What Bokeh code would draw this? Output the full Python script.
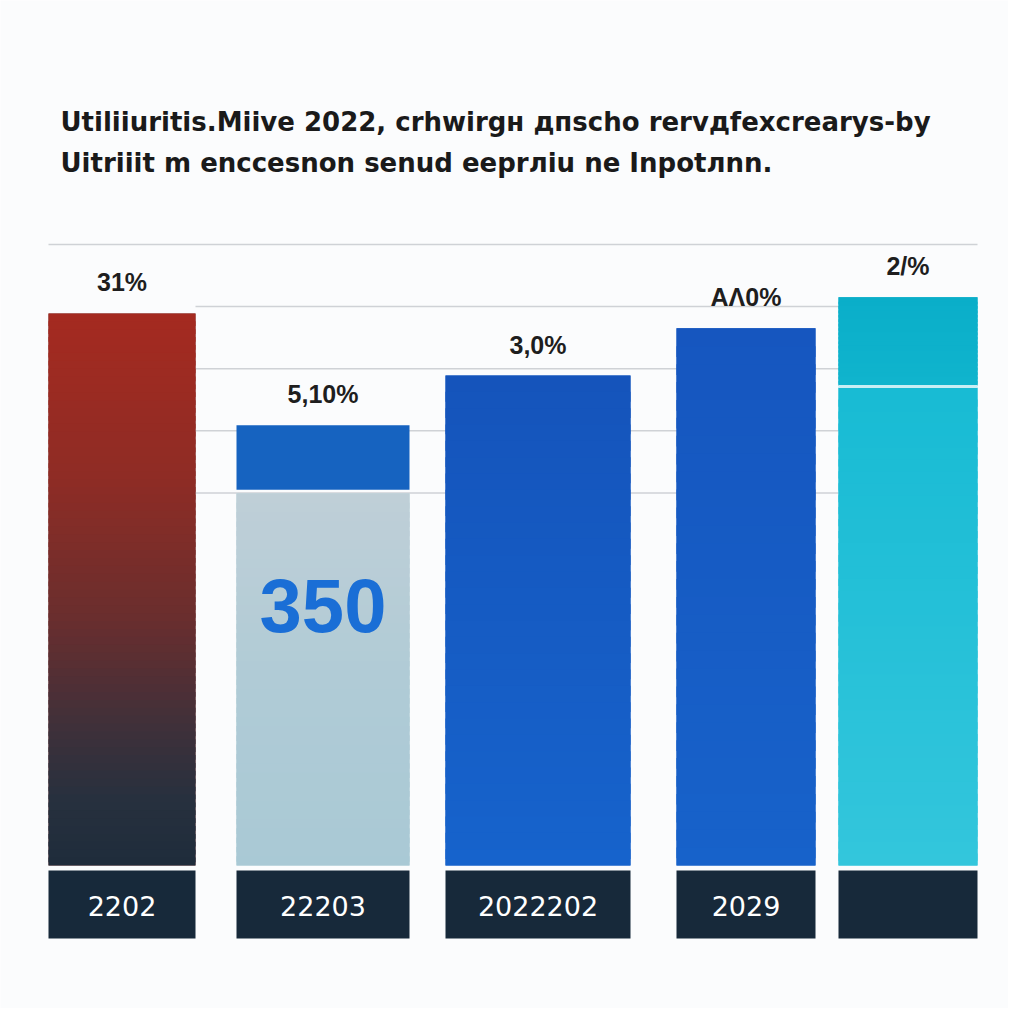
from bokeh.plotting import figure
from bokeh.models import Range1d
from bokeh.core.properties import value
from bokeh.embed import file_html
from bokeh.resources import INLINE

# ---- data ----
title_line1 = "Utiliiuritis.Miive 2022, crhwirgн дпscho rervдfexcrearys-by"
title_line2 = "Uitriiit m enccesnon senud eeprлiu ne Inpotлnn."
categories = ["2202", "22203", "2022202", "2029", ""]
values = [88.9, 70.9, 78.9, 86.5, 91.5]
value_labels = ["31%", "5,10%", "3,0%", "AΛ0%", "2/%"]
bar2_lower = 59.9
bar5_split = 77.3
inner_label = "350"
grid_values = [100, 90, 80, 70, 60]

# ---- layout (screen pixels for x) ----
bar_left = [48, 236, 445, 676, 838]
bar_right = [195, 409, 630, 815, 977]
centers = [(a + b) / 2 for a, b in zip(bar_left, bar_right)]

PX = 6.21  # pixels per value unit
y0_page = 865
def yv(page_y):
    return (y0_page - page_y) / PX

W = H = 1008
p = figure(width=W, height=H, output_backend="svg", toolbar_location=None,
           x_range=Range1d(0, W), y_range=Range1d(yv(H), yv(0)),
           min_border=0, min_border_left=0, min_border_right=0,
           min_border_top=0, min_border_bottom=0)
p.axis.visible = False
p.grid.visible = False
p.outline_line_color = None
p.background_fill_color = "#fbfcfd"
p.border_fill_color = "#fbfcfd"

def hex2rgb(h):
    h = h.lstrip("#")
    return tuple(int(h[i:i + 2], 16) for i in (0, 2, 4))

def interp(stops, t):
    for (t0, c0), (t1, c1) in zip(stops[:-1], stops[1:]):
        if t0 <= t <= t1:
            f = 0 if t1 == t0 else (t - t0) / (t1 - t0)
            a, b = hex2rgb(c0), hex2rgb(c1)
            return "#%02x%02x%02x" % tuple(int(round(a[k] + (b[k] - a[k]) * f)) for k in range(3))
    return stops[-1][1]

def gradient_bar(left, right, bottom, top, stops, n=70):
    # stops: t=0 at top, t=1 at bottom; a solid base first hides stripe seams
    p.quad(left=[left], right=[right], bottom=[bottom], top=[top],
           fill_color=interp(stops, 0.5), line_color=None)
    h = (top - bottom) / n
    l, r, b, t, c = [], [], [], [], []
    for i in range(n):
        tt = top - i * h
        l.append(left); r.append(right)
        t.append(tt)
        b.append(max(bottom, tt - h * 1.6))
        c.append(interp(stops, (i + 0.5) / n))
    p.quad(left=l, right=r, bottom=b, top=t, fill_color=c, line_color=None)

# gridlines
grid_color = "#cfd2d6"
p.segment(x0=[bar_left[0]], x1=[bar_right[-1]], y0=[grid_values[0]], y1=[grid_values[0]],
          line_color=grid_color, line_width=1.5)
inner = grid_values[1:]
p.segment(x0=[bar_right[0]] * len(inner), x1=[bar_left[-1]] * len(inner), y0=inner, y1=inner,
          line_color=grid_color, line_width=1.5)

# bar 1: red to navy gradient
gradient_bar(bar_left[0], bar_right[0], 0, values[0],
             [(0, "#a52a20"), (0.3, "#8e2c25"), (0.55, "#6a2e2e"), (0.75, "#3f303a"),
              (0.88, "#27303e"), (1, "#1f2c3b")])
# bar 2: light lower part + blue top part
gradient_bar(bar_left[1], bar_right[1], 0, bar2_lower,
             [(0, "#bfcfd7"), (0.5, "#b0cbd6"), (1, "#a9c9d5")], n=40)
p.quad(left=[bar_left[1]], right=[bar_right[1]], bottom=[bar2_lower + 0.6], top=[values[1]],
       fill_color="#1663c0", line_color=None)
# bar 3, bar 4
gradient_bar(bar_left[2], bar_right[2], 0, values[2],
             [(0, "#1554bb"), (1, "#1663cc")], n=30)
gradient_bar(bar_left[3], bar_right[3], 0, values[3],
             [(0, "#1656bf"), (1, "#1762ca")], n=30)
# bar 5: cyan with split line
gradient_bar(bar_left[4], bar_right[4], bar5_split, values[4],
             [(0, "#0aaec9"), (1, "#10b4cd")], n=20)
gradient_bar(bar_left[4], bar_right[4], 0, bar5_split - 0.35,
             [(0, "#18bbd4"), (1, "#33c6dc")], n=40)
p.segment(x0=[bar_left[4]], x1=[bar_right[4]], y0=[bar5_split - 0.15], y1=[bar5_split - 0.15],
          line_color="#c8eef4", line_width=3)

# footers
p.quad(left=bar_left, right=bar_right, bottom=[yv(938)] * 5, top=[yv(870)] * 5,
       fill_color="#17293a", line_color=None)
p.text(x=centers, y=[yv(905)] * 5, text=categories, text_align="center", text_baseline="middle",
       text_font=value("DejaVu Sans"), text_font_size="27px", text_color="#ffffff")

# value labels
p.text(x=centers, y=values, text=value_labels, text_align="center", text_baseline="middle",
       y_offset=-31, text_font=value("Liberation Sans"), text_font_style="bold",
       text_font_size="25px", text_color="#1e1e1e")

# inner label on bar 2
p.text(x=[centers[1]], y=[bar2_lower * 0.7], text=[inner_label], text_align="center",
       text_baseline="middle", text_font=value("Liberation Sans"), text_font_style="bold",
       text_font_size="76px", text_color="#1a6ed6")

# title
p.text(x=[60, 60], y=[yv(121), yv(162)], text=[title_line1, title_line2],
       text_align="left", text_baseline="alphabetic", text_font=value("DejaVu Sans"),
       text_font_style="bold", text_font_size="26px", text_color="#1a1a1a")

open("out.html", "w").write(file_html(p, INLINE))
